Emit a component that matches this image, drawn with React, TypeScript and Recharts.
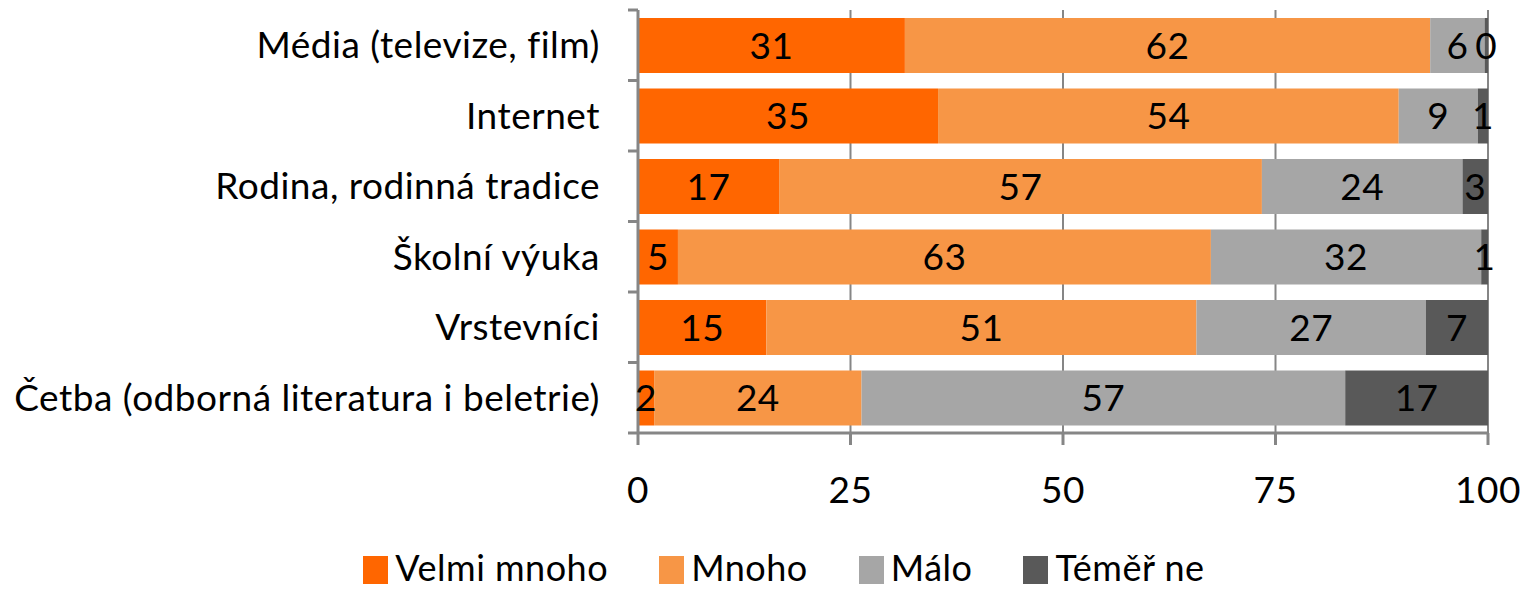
import { BarChart, Bar, XAxis, YAxis, CartesianGrid, Legend, LabelList } from 'recharts';

const categories = [
  'Média (televize, film)',
  'Internet',
  'Rodina, rodinná tradice',
  'Školní výuka',
  'Vrstevníci',
  'Četba (odborná literatura i beletrie)',
];
const velmiMnoho = [31.4, 35.3, 16.6, 4.7, 15.1, 1.9];
const mnoho = [61.8, 54.2, 56.8, 62.7, 50.6, 24.4];
const malo = [6.4, 9.3, 23.6, 31.8, 27.0, 56.9];
const temerNe = [0.4, 1.2, 3.0, 0.8, 7.3, 16.8];
const xTicks = [0, 25, 50, 75, 100];
const seriesNames = ['Velmi mnoho', 'Mnoho', 'Málo', 'Téměř ne'];
const colors = ['#FF6600', '#F79646', '#A6A6A6', '#595959'];

const data = categories.map((name, i) => ({
  name,
  v0: velmiMnoho[i],
  v1: mnoho[i],
  v2: malo[i],
  v3: temerNe[i],
}));

const FONT = 37;
const AXIS = '#868686';
const PLOT_LEFT = 638;
const PLOT_TOP = 10;
const PLOT_BOTTOM = 433;
const band = (PLOT_BOTTOM - PLOT_TOP) / categories.length;

const CategoryTick = (props: any) => {
  const { y, payload, index } = props;
  return (
    <g>
      <line x1={PLOT_LEFT - 10} x2={PLOT_LEFT} y1={y - band / 2} y2={y - band / 2} stroke={AXIS} strokeWidth={3} />
      {index === categories.length - 1 && (
        <line x1={PLOT_LEFT - 10} x2={PLOT_LEFT} y1={y + band / 2} y2={y + band / 2} stroke={AXIS} strokeWidth={3} />
      )}
      <text x={PLOT_LEFT - 38} y={y} dy='0.35em' textAnchor='end' fontSize={FONT} fill='#000'>
        {payload.value}
      </text>
    </g>
  );
};

const renderLegend = () => (
  <div
    style={{
      display: 'flex',
      justifyContent: 'center',
      alignItems: 'center',
      paddingLeft: 48,
      paddingTop: 3,
      fontSize: 36,
      lineHeight: '36px',
      height: 36,
      color: '#000',
    }}
  >
    {seriesNames.map((n, i) => (
      <span key={n} style={{ display: 'flex', alignItems: 'center', marginRight: i < 3 ? 51 : 0 }}>
        <span
          style={{
            width: 25,
            height: 28,
            background: colors[i],
            marginRight: 7,
            display: 'inline-block',
            position: 'relative',
            top: 3,
          }}
        />
        <span>{n}</span>
      </span>
    ))}
  </div>
);

export default function App() {
  return (
    <div
      style={{
        position: 'absolute',
        left: 0,
        top: 0,
        fontFamily: 'Lato',
        letterSpacing: 0.5,
        background: '#fff',
      }}
    >
      <BarChart
        width={1520}
        height={590}
        data={data}
        layout='vertical'
        margin={{ top: PLOT_TOP, right: 32, left: 0, bottom: 0 }}
        barSize={55}
      >
        <CartesianGrid horizontal={false} stroke={AXIS} strokeWidth={2} />
        <XAxis
          type='number'
          domain={[0, 100]}
          ticks={xTicks}
          interval={0}
          tickSize={12}
          tickMargin={32}
          height={113}
          tick={{ fontSize: FONT, fill: '#000' }}
          axisLine={{ stroke: AXIS, strokeWidth: 3 }}
          tickLine={{ stroke: AXIS, strokeWidth: 3 }}
        />
        <YAxis
          type='category'
          dataKey='name'
          width={PLOT_LEFT}
          tickLine={false}
          tick={<CategoryTick />}
          interval={0}
          axisLine={{ stroke: AXIS, strokeWidth: 3 }}
        />
        <Legend
          verticalAlign='bottom'
          content={renderLegend}
          wrapperStyle={{ left: 0, width: 1520, height: 44, bottom: 0 }}
        />
        {['v0', 'v1', 'v2', 'v3'].map((k, i) => (
          <Bar key={k} dataKey={k} stackId='a' fill={colors[i]} name={seriesNames[i]} isAnimationActive={false}>
            <LabelList
              dataKey={k}
              position='center'
              formatter={(v: any) => Math.round(v)}
              fill='#000'
              fontSize={FONT}
            />
          </Bar>
        ))}
      </BarChart>
    </div>
  );
}
